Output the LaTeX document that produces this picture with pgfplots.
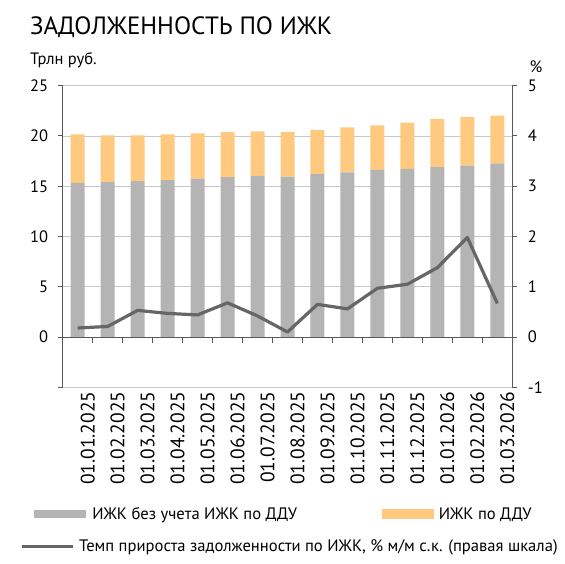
\documentclass[border=0pt]{standalone}
\usepackage{pgfplots}
\pgfplotsset{compat=1.18}
\usepackage{pgfplotstable}
\usepackage{fontspec}
\setmainfont{PT Sans}
\definecolor{barGrey}{HTML}{B4B4B4}
\definecolor{barYel}{HTML}{FFC980}
\definecolor{lineGrey}{HTML}{666666}
\definecolor{axGrey}{HTML}{595959}
\definecolor{gridGrey}{HTML}{C8C8C8}
\pgfplotstableread{
x grey ddu rate
0 15.33 4.82 0.18
1 15.40 4.65 0.21
2 15.50 4.55 0.53
3 15.60 4.55 0.47
4 15.75 4.50 0.44
5 15.90 4.48 0.68
6 16.03 4.42 0.42
7 15.96 4.42 0.10
8 16.20 4.38 0.65
9 16.37 4.48 0.56
10 16.63 4.43 0.97
11 16.72 4.61 1.05
12 16.90 4.78 1.38
13 17.06 4.84 1.98
14 17.28 4.74 0.67
}\datatable
\newcommand{\tickfont}{\fontsize{16.5}{19}\selectfont}
\newcommand{\legfont}{\fontsize{16.6}{19}\selectfont}
\begin{document}
\begin{tikzpicture}
\useasboundingbox (0pt,0pt) rectangle (565pt,564pt);
\node[anchor=base west, inner sep=0pt, font=\fontsize{25}{30}\selectfont] at (30pt,529.7pt) {ЗАДОЛЖЕННОСТЬ ПО ИЖК};
\node[anchor=base west, inner sep=0pt, font=\tickfont] at (30pt,499.7pt) {Трлн руб.};
\node[anchor=center, inner sep=0pt, font=\tickfont] at (536pt,497.3pt) {\%};
% bars, left axis
\begin{axis}[
  at={(62.7pt,176.7pt)}, anchor=south west,
  scale only axis, width=449.6pt, height=301.6pt,
  xmin=-0.5, xmax=14.5, ymin=-5, ymax=25,
  axis y line*=left, axis x line*=bottom,
  x axis line style={draw=none},
  y axis line style={axGrey, line width=1.1pt},
  ytick={-5,0,5,10,15,20,25},
  yticklabels={,0,5,10,15,20,25},
  yticklabel style={font=\tickfont, xshift=-6pt},
  ytick style={axGrey, line width=1pt},
  tick align=outside, major tick length=5pt,
  xtick={0,1,...,14},
  xtick style={draw=none},
  xticklabels={01.01.2025,01.02.2025,01.03.2025,01.04.2025,01.05.2025,01.06.2025,01.07.2025,01.08.2025,01.09.2025,01.10.2025,01.11.2025,01.12.2025,01.01.2026,01.02.2026,01.03.2026},
  xticklabel style={rotate=90, anchor=east, font=\fontsize{19.5}{22}\selectfont, inner sep=0pt, yshift=-10pt, xshift=1pt},
  ymajorgrids, grid style={gridGrey, line width=0.8pt},
  ybar stacked, bar width=14pt,
  /pgf/number format/assume math mode=true,
  legend style={at={(-0.0638,-0.4200)}, anchor=west, draw=none, fill=none,
    inner sep=0pt, outer sep=0pt, column sep=6.6pt, font=\legfont,
    nodes={inner sep=0pt}},
]
\addplot[fill=barGrey, draw=none, legend image code/.code={\fill[barGrey] (0pt,-4.3pt) rectangle (51.7pt,4.3pt);}] table[x=x, y=grey] {\datatable};
\addlegendentry{ИЖК без учета ИЖК по ДДУ}
\addplot[fill=barYel, draw=none] table[x=x, y=ddu] {\datatable};
\end{axis}
% line, right axis
\begin{axis}[
  at={(62.7pt,176.7pt)}, anchor=south west,
  scale only axis, width=449.6pt, height=301.6pt,
  xmin=-0.5, xmax=14.5, ymin=-1, ymax=5,
  axis y line*=right, axis x line=none,
  y axis line style={axGrey, line width=1.1pt},
  ytick={-1,0,1,2,3,4,5},
  yticklabels={-1,0,1,2,3,4,5},
  yticklabel style={font=\tickfont, xshift=7pt},
  ytick style={axGrey, line width=1pt},
  tick align=outside, major tick length=5pt,
  /pgf/number format/assume math mode=true,
  legend style={at={(-0.095,-0.5270)}, anchor=west, draw=none, fill=none,
    inner sep=0pt, outer sep=0pt, column sep=4.3pt, font=\legfont,
    nodes={inner sep=0pt}},
]
\addplot[lineGrey, line width=3.2pt, line join=round, mark=none,
  legend image code/.code={\draw[lineGrey, line width=3.2pt] (0pt,0pt) -- (51.7pt,0pt);}] table[x=x, y=rate] {\datatable};
\addlegendentry{Темп прироста задолженности по ИЖК, \% м/м с.к. (правая шкала)}
\end{axis}
% zero line with category ticks
\begin{axis}[
  at={(62.7pt,226.7pt)}, anchor=south west,
  scale only axis, width=449.6pt, height=251.3pt,
  xmin=-0.5, xmax=14.5, ymin=0, ymax=1,
  axis x line*=bottom, axis y line=none,
  x axis line style={axGrey, line width=1.2pt},
  xtick={0.5,1.5,...,13.5}, xticklabels={},
  xtick style={axGrey, line width=1pt},
  tick align=outside, major tick length=6pt,
  legend style={at={(0.7095,-0.7030)}, anchor=west, draw=none, fill=none,
    inner sep=0pt, outer sep=0pt, column sep=5pt, font=\legfont,
    nodes={inner sep=0pt}},
]
\addlegendimage{legend image code/.code={\fill[barYel] (0pt,-4.3pt) rectangle (51.7pt,4.3pt);}}
\addlegendentry{ИЖК по ДДУ}
\end{axis}
\end{tikzpicture}
\end{document}
